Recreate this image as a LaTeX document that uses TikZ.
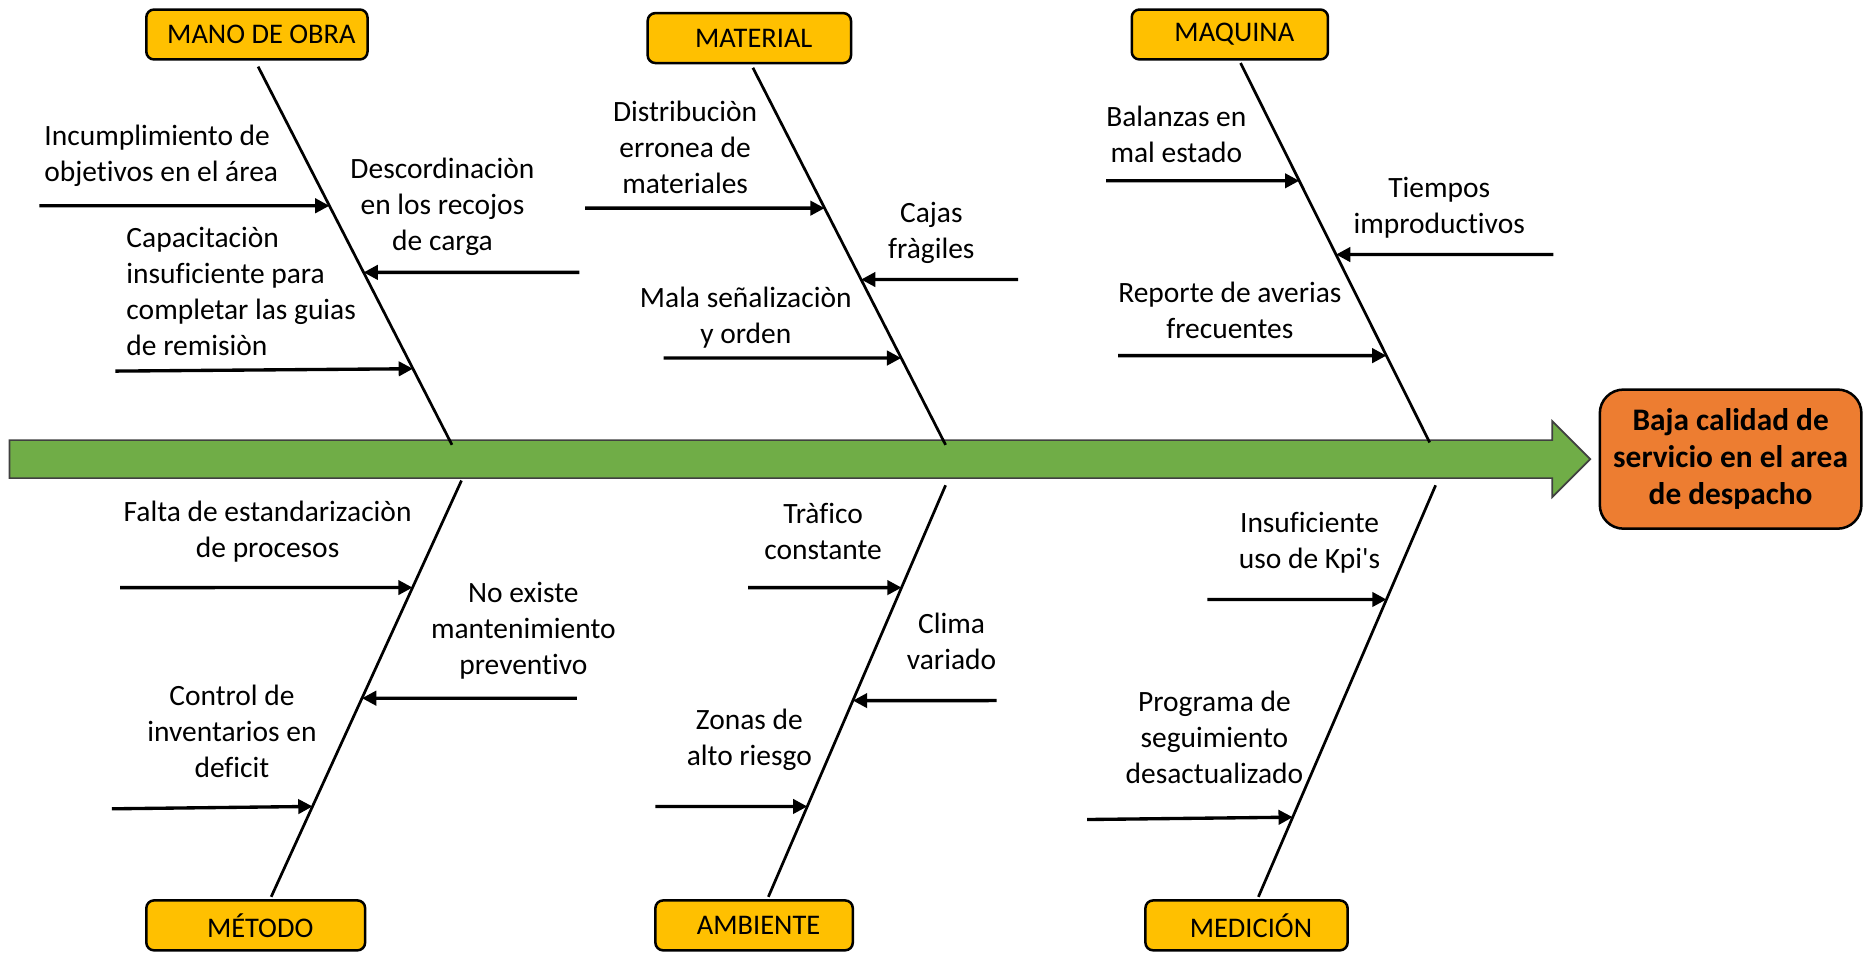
\documentclass[tikz,border=0pt]{standalone}
\usepackage{fontspec}
\setmainfont{Carlito}[Ligatures={TeXOff,NoCommon}]
\usetikzlibrary{arrows.meta}
\definecolor{catfill}{HTML}{FFC000}
\definecolor{effill}{HTML}{ED7D31}
\definecolor{spinefill}{HTML}{70AD47}
\tikzset{
  cat/.style={draw=black, line width=1.2pt, fill=catfill, rounded corners=0.13cm, minimum height=0.84cm, inner sep=0pt, font=\fontsize{13.6}{16}\selectfont},
  effect/.style={draw=black, line width=1.2pt, fill=effill, rounded corners=0.4cm, minimum width=4.4cm, minimum height=2.34cm, align=center, font=\fontsize{15}{17.8}\selectfont\bfseries},
  cause/.style={align=center, inner sep=0pt, font=\fontsize{14.1}{17.2}\selectfont},
  causel/.style={cause, align=left, anchor=west},
  bone/.style={line width=1.3pt},
  carrow/.style={line width=1.6pt, -{Triangle[length=0.24cm, width=0.24cm]}}
}
\begin{document}
\begin{tikzpicture}[x=0.02cm, y=-0.02cm]
\useasboundingbox (0,0) rectangle (1568,805);
% spine
\draw[fill=spinefill, draw=black!75, line width=0.8pt]
  (8,370) -- (1305,370) -- (1305,354) -- (1337,386) -- (1305,418) -- (1305,402) -- (8,402) -- cycle;
\node[effect] (eff) at (1455,386) {Baja calidad de\\servicio en el area\\de despacho};
% categories
\node[cat, minimum width=3.72cm] (mo) at (216,29) {\hspace*{0.15cm}MANO DE OBRA};
\node[cat, minimum width=3.42cm] (mat) at (630,32) {\hspace*{0.15cm}MATERIAL};
\node[cat, minimum width=3.3cm] (maq) at (1034,29) {\hspace*{0.15cm}MAQUINA};
\node[cat, minimum width=3.68cm] (met) at (215,778) {\hspace*{0.15cm}MÉTODO};
\node[cat, minimum width=3.32cm] (amb) at (634,778) {\hspace*{0.15cm}AMBIENTE};
\node[cat, minimum width=3.4cm] (med) at (1048,778) {\hspace*{0.15cm}MEDICIÓN};
% bones
\coordinate (moT) at (217,56);  \coordinate (moB) at (380,374);
\coordinate (matT) at (633,57); \coordinate (matB) at (795,374);
\coordinate (maqT) at (1043,53); \coordinate (maqB) at (1202,372);
\coordinate (metT) at (388,404); \coordinate (metB) at (228,754);
\coordinate (ambT) at (795,408); \coordinate (ambB) at (646,754);
\coordinate (medT) at (1207,408); \coordinate (medB) at (1058,754);
\draw[bone] (moT) -- (moB);
\draw[bone] (matT) -- (matB);
\draw[bone] (maqT) -- (maqB);
\draw[bone] (metT) -- (metB);
\draw[bone] (ambT) -- (ambB);
\draw[bone] (medT) -- (medB);
% cause arrows
\coordinate (s1) at (33,173);   \coordinate (e1) at (intersection of moT--moB and 0,173--10,173);
\coordinate (s2) at (487,229);  \coordinate (e2) at (intersection of moT--moB and 0,229--10,229);
\coordinate (s3) at (97,312);   \coordinate (e3) at (intersection of moT--moB and 0,310--10,310);
\coordinate (s4) at (492,175);  \coordinate (e4) at (intersection of matT--matB and 0,175--10,175);
\coordinate (s5) at (856,235);  \coordinate (e5) at (intersection of matT--matB and 0,235--10,235);
\coordinate (s6) at (558,301);  \coordinate (e6) at (intersection of matT--matB and 0,301--10,301);
\coordinate (s7) at (930,152);  \coordinate (e7) at (intersection of maqT--maqB and 0,152--10,152);
\coordinate (s8) at (1306,214); \coordinate (e8) at (intersection of maqT--maqB and 0,214--10,214);
\coordinate (s9) at (940,299);  \coordinate (e9) at (intersection of maqT--maqB and 0,299--10,299);
\coordinate (s10) at (101,494); \coordinate (e10) at (intersection of metT--metB and 0,494--10,494);
\coordinate (s11) at (485,587); \coordinate (e11) at (intersection of metT--metB and 0,587--10,587);
\coordinate (s12) at (94,680);  \coordinate (e12) at (intersection of metT--metB and 0,678--10,678);
\coordinate (s13) at (629,494); \coordinate (e13) at (intersection of ambT--ambB and 0,494--10,494);
\coordinate (s14) at (838,589); \coordinate (e14) at (intersection of ambT--ambB and 0,589--10,589);
\coordinate (s15) at (551,678); \coordinate (e15) at (intersection of ambT--ambB and 0,678--10,678);
\coordinate (s16) at (1015,504); \coordinate (e16) at (intersection of medT--medB and 0,504--10,504);
\coordinate (s17) at (914,689); \coordinate (e17) at (intersection of medT--medB and 0,687--10,687);
\foreach \i in {1,...,17} { \draw[carrow] (s\i) -- (e\i); }
% cause texts
\node[causel] (t1) at (37,131) {Incumplimiento de\\objetivos en el área};
\node[cause] (t2) at (372,174) {Descordinaciòn\\en los recojos\\de carga};
\node[causel] (t3) at (106,245) {Capacitaciòn\\insuficiente para\\completar las guias\\de remisiòn};
\node[cause] (t4) at (576,124) {Distribuciòn\\erronea de\\materiales};
\node[cause] (t5) at (783,196) {Cajas\\fràgiles};
\node[cause] (t6) at (627,267) {Mala señalizaciòn\\y orden};
\node[cause] (t7) at (989,113) {Balanzas en\\mal estado};
\node[cause] (t8) at (1210,175) {Tiempos\\improductivos};
\node[cause] (t9) at (1034,261) {Reporte de averias\\frecuentes};
\node[cause] (t10) at (225,447) {Falta de estandarizaciòn\\de procesos};
\node[cause] (t11) at (440,530) {No existe\\mantenimiento\\preventivo};
\node[cause] (t12) at (195,615) {Control de\\inventarios en\\deficit};
\node[cause] (t13) at (692,447) {Tràfico\\constante};
\node[cause] (t14) at (800,539) {Clima\\variado};
\node[cause] (t15) at (630,622) {Zonas de\\alto riesgo};
\node[cause] (t16) at (1101,456) {Insuficiente\\uso de Kpi's};
\node[cause] (t17) at (1021,620) {Programa de\\seguimiento\\desactualizado};
\end{tikzpicture}
\end{document}
